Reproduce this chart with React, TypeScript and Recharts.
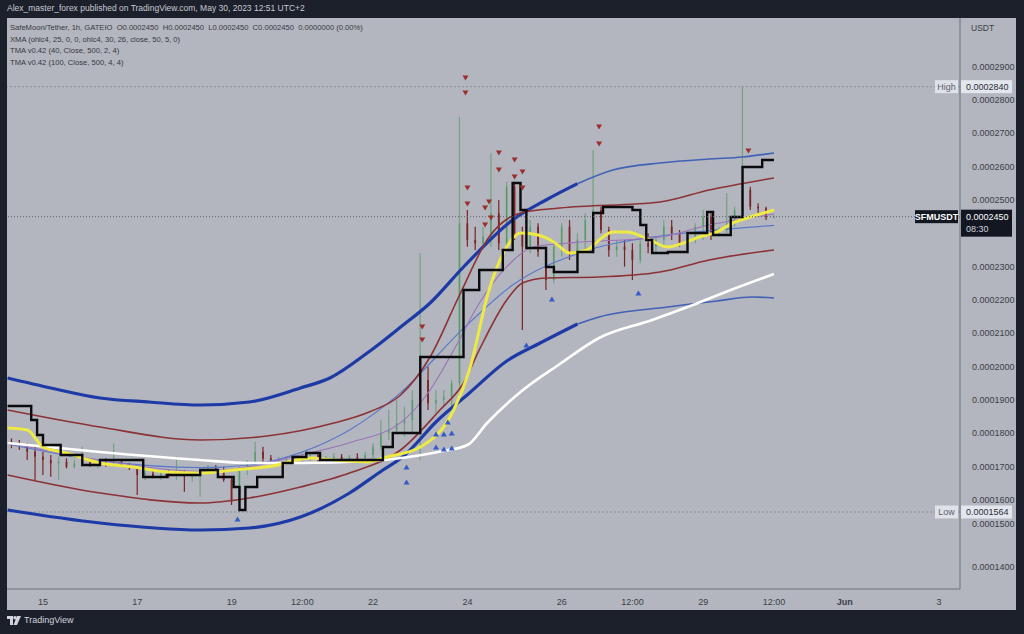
import { ComposedChart, Line, Bar, Scatter, XAxis, YAxis, ReferenceLine } from 'recharts';

// x = hours since May 15 00:00, price values in units of 1e-7 USDT
const FONT = '"Liberation Sans", Arial, sans-serif';

const timeTicks = [0, 48, 96, 132, 168, 216, 264, 300, 336, 372, 408, 456];
const timeLabels = ['15', '17', '19', '12:00', '22', '24', '26', '12:00', '29', '12:00', 'Jun', '3'];
// 0.0002400 sits under the last-price tag, so it is not drawn
const priceTicks = [1400, 1500, 1600, 1700, 1800, 1900, 2000, 2100, 2200, 2300, 2500, 2600, 2700, 2800, 2900];

const HIGH = 2840;
const LOW = 1564;
const LAST = 2450;
const LIVE_FROM = 272; // TMA band turns into its thin (repainting) part

const legendLines = [
  'SafeMoon/Tether, 1h, GATEIO  O0.0002450  H0.0002450  L0.0002450  C0.0002450  0.0000000 (0.00%)',
  'XMA (ohlc4, 25, 0, 0, ohlc4, 30, 26, close, 50, 5, 0)',
  'TMA v0.42 (40, Close, 500, 2, 4)',
  'TMA v0.42 (100, Close, 500, 4, 4)',
];

// [hour, open, high, low, close] — 4h buckets
const candles: [number, number, number, number, number][] = [
  [-16, 1775, 1785, 1755, 1770], [-12, 1770, 1780, 1750, 1765], [-8, 1765, 1770, 1720, 1745],
  [-4, 1745, 1760, 1660, 1730], [0, 1730, 1745, 1675, 1720], [4, 1720, 1735, 1670, 1710],
  [8, 1710, 1730, 1660, 1715], [12, 1715, 1725, 1695, 1700], [16, 1700, 1720, 1695, 1710],
  [20, 1710, 1760, 1700, 1715], [24, 1715, 1725, 1700, 1705], [28, 1705, 1720, 1695, 1712],
  [32, 1712, 1725, 1700, 1708], [36, 1708, 1770, 1700, 1715], [40, 1715, 1722, 1700, 1705],
  [44, 1705, 1712, 1690, 1695], [48, 1695, 1700, 1615, 1675], [52, 1675, 1690, 1660, 1680],
  [56, 1680, 1690, 1665, 1672], [60, 1672, 1685, 1660, 1680], [64, 1680, 1690, 1665, 1675],
  [68, 1675, 1730, 1660, 1685], [72, 1685, 1690, 1625, 1670], [76, 1670, 1685, 1655, 1680],
  [80, 1680, 1690, 1610, 1685], [84, 1685, 1705, 1675, 1695], [88, 1695, 1705, 1680, 1690],
  [92, 1690, 1700, 1655, 1660], [96, 1660, 1670, 1585, 1595], [100, 1595, 1700, 1564, 1690],
  [104, 1690, 1720, 1675, 1715], [108, 1715, 1775, 1700, 1745], [112, 1745, 1760, 1715, 1725],
  [116, 1725, 1735, 1710, 1718], [120, 1718, 1730, 1708, 1722], [124, 1722, 1732, 1710, 1725],
  [128, 1725, 1735, 1712, 1728], [132, 1728, 1740, 1715, 1730], [136, 1730, 1745, 1718, 1735],
  [140, 1735, 1745, 1712, 1720], [144, 1720, 1732, 1710, 1725], [148, 1725, 1740, 1715, 1730],
  [152, 1730, 1738, 1712, 1722], [156, 1722, 1735, 1712, 1728], [160, 1728, 1740, 1715, 1725],
  [164, 1725, 1745, 1718, 1735], [168, 1735, 1770, 1725, 1760], [172, 1760, 1840, 1750, 1800],
  [176, 1800, 1870, 1780, 1810], [180, 1810, 1900, 1800, 1830], [184, 1830, 1880, 1790, 1840],
  [188, 1840, 1930, 1800, 1900], [192, 1880, 2340, 1720, 1990], [196, 1960, 2000, 1870, 1890],
  [200, 1890, 1930, 1860, 1900], [204, 1900, 1930, 1880, 1910], [208, 1910, 1960, 1880, 1950],
  [212, 1950, 2749, 1930, 2430], [216, 2430, 2470, 2360, 2380], [220, 2380, 2420, 2350, 2370],
  [224, 2370, 2420, 2355, 2390], [228, 2380, 2640, 2360, 2460], [232, 2460, 2500, 2350, 2370],
  [236, 2370, 2555, 2360, 2540], [240, 2540, 2555, 2380, 2400], [244, 2400, 2420, 2110, 2360],
  [248, 2360, 2440, 2340, 2420], [252, 2420, 2430, 2330, 2345], [256, 2345, 2360, 2230, 2260],
  [260, 2260, 2380, 2250, 2360], [264, 2360, 2430, 2330, 2420], [268, 2420, 2440, 2320, 2340],
  [272, 2340, 2400, 2310, 2380], [276, 2380, 2460, 2350, 2440], [280, 2440, 2650, 2420, 2470],
  [284, 2470, 2480, 2400, 2410], [288, 2410, 2420, 2330, 2350], [292, 2350, 2380, 2330, 2360],
  [296, 2360, 2380, 2300, 2350], [300, 2350, 2370, 2260, 2320], [304, 2320, 2380, 2310, 2370],
  [308, 2370, 2400, 2340, 2360], [312, 2360, 2390, 2340, 2380], [316, 2380, 2440, 2360, 2420],
  [320, 2420, 2440, 2380, 2400], [324, 2400, 2410, 2360, 2370], [328, 2370, 2400, 2340, 2390],
  [332, 2390, 2430, 2370, 2420], [336, 2420, 2470, 2380, 2450], [340, 2450, 2460, 2380, 2400],
  [344, 2400, 2420, 2390, 2410], [348, 2410, 2520, 2400, 2430], [352, 2430, 2480, 2420, 2470],
  [356, 2470, 2840, 2460, 2530], [360, 2530, 2540, 2470, 2480], [364, 2480, 2490, 2460, 2475],
  [368, 2475, 2480, 2440, 2450], [372, 2450, 2455, 2445, 2450],
];

// XMA step line [hour, level]
const xmaStep = [
  [-18, 1882], [-6, 1840], [-3, 1795], [0, 1765], [9, 1735], [20, 1705], [29, 1720], [51, 1669],
  [63, 1675], [80, 1690], [89, 1669], [97, 1639], [100, 1570], [103, 1639], [109, 1669], [122, 1711],
  [127, 1729], [134, 1741], [141, 1720], [173, 1759], [178, 1801], [192, 2029], [214, 2230], [222, 2290],
  [234, 2350], [239, 2551], [243, 2470], [246, 2356], [256, 2299], [260, 2284], [272, 2344], [280, 2461],
  [285, 2479], [300, 2470], [304, 2425], [307, 2380], [310, 2341], [318, 2344], [328, 2401], [338, 2464],
  [341, 2395], [350, 2449], [356, 2599], [366, 2620], [372, 2620],
];

const xmaSmooth = [
  [-18, 1816], [-8, 1810], [0, 1759], [12, 1741], [29, 1711], [46, 1699], [63, 1684], [80, 1681],
  [97, 1690], [117, 1702], [136, 1726], [148, 1720], [165, 1714], [175, 1729], [192, 1759], [209, 1870],
  [217, 1990], [227, 2230], [236, 2359], [243, 2401], [252, 2395], [260, 2374], [268, 2341], [277, 2350],
  [283, 2380], [290, 2404], [297, 2404], [309, 2380], [318, 2359], [326, 2371], [334, 2389], [343, 2404],
  [351, 2431], [360, 2449], [372, 2470],
];

const slowUpper = [
  [-18, 1966], [4, 1936], [29, 1906], [54, 1894], [80, 1885], [105, 1894], [131, 1936], [146, 1966],
  [165, 2041], [182, 2119], [197, 2191], [214, 2299], [239, 2440], [256, 2500], [272, 2549], [290, 2590],
  [314, 2611], [339, 2623], [356, 2629], [372, 2641],
];
const slowLower = [
  [-18, 1570], [29, 1531], [80, 1510], [105, 1516], [131, 1549], [156, 1621], [173, 1690], [183, 1729],
  [201, 1840], [217, 1921], [236, 2017], [253, 2071], [272, 2128], [283, 2149], [318, 2179], [343, 2197],
  [361, 2209], [372, 2206],
];
const slowMid = [
  [-18, 1768], [29, 1718], [80, 1697], [105, 1705], [131, 1742], [156, 1810], [182, 1922], [214, 2115],
  [239, 2245], [273, 2341], [314, 2392], [339, 2408], [372, 2424],
];
const fastUpper = [
  [-18, 1870], [29, 1819], [80, 1780], [114, 1792], [148, 1831], [166, 1864], [182, 1915], [197, 2029],
  [212, 2215], [227, 2389], [243, 2461], [263, 2476], [314, 2494], [339, 2530], [372, 2566],
];
const fastLower = [
  [-18, 1675], [29, 1621], [80, 1591], [105, 1606], [131, 1639], [156, 1681], [182, 1750], [202, 1870],
  [214, 1951], [222, 2050], [236, 2200], [244, 2251], [256, 2266], [283, 2269], [314, 2284], [339, 2320],
  [372, 2350],
];
const fastMid = [
  [-18, 1772], [29, 1720], [80, 1686], [105, 1700], [131, 1735], [156, 1772], [182, 1832], [197, 1930],
  [210, 2060], [222, 2190], [236, 2300], [250, 2360], [270, 2372], [314, 2389], [339, 2425], [372, 2458],
];
const whiteLine = [
  [-18, 1771], [29, 1744], [80, 1720], [105, 1711], [131, 1711], [166, 1717], [201, 1744], [216, 1765],
  [226, 1831], [243, 1924], [263, 2008], [283, 2086], [310, 2140], [328, 2179], [350, 2230], [372, 2278],
];

const sellSignals = [
  [215, 2866], [215, 2821], [193, 2119], [193, 2080], [216, 2536], [216, 2488], [225, 2476], [227, 2494],
  [225, 2425], [228, 2446], [232, 2641], [232, 2590], [240, 2620], [244, 2584], [240, 2569], [244, 2536],
  [283, 2719], [283, 2668], [359, 2647],
];
const buySignals = [
  [99, 1543], [185, 1699], [185, 1654], [200, 1798], [204, 1798], [208, 1801], [206, 1834], [200, 1759],
  [204, 1753], [208, 1756], [246, 2065], [259, 2203], [303, 2221],
];

const pts = (arr: number[][]) => arr.map(([h, p]) => ({ h, p }));
const rows = candles.map(([h, o, hi, lo, c]) => ({ h, o, hi, lo, c }));
const fmt = (v: number) => (v / 1e7).toFixed(7);

function Candle(props: any) {
  const { x, y, width, height, payload } = props;
  if (!payload) return null;
  const { o, c, hi, lo } = payload;
  const up = c >= o;
  const yOf = (v: number) => (hi === lo ? y : y + ((hi - v) / (hi - lo)) * height);
  const top = yOf(Math.max(o, c));
  const bot = yOf(Math.min(o, c));
  const cx = x + width / 2;
  const color = up ? 'rgba(70,150,85,0.6)' : '#7c2424';
  return (
    <g>
      <line x1={cx} x2={cx} y1={y} y2={y + height} stroke={color} strokeWidth={1.2} />
      <rect x={x} y={top} width={width} height={Math.max(1, bot - top)} fill={color} />
    </g>
  );
}

const triDown = (props: any) => {
  const { cx, cy } = props;
  return <polygon points={`${cx - 3},${cy - 2.5} ${cx + 3},${cy - 2.5} ${cx},${cy + 2.5}`} fill="#9b2d2d" />;
};
const triUp = (props: any) => {
  const { cx, cy } = props;
  return <polygon points={`${cx - 3},${cy + 2.5} ${cx + 3},${cy + 2.5} ${cx},${cy - 2.5}`} fill="#3559c7" />;
};

function LightTag(props: any) {
  const { viewBox, name, value } = props;
  if (!viewBox) return null;
  const right = viewBox.x + viewBox.width;
  const y = viewBox.y;
  return (
    <g fontFamily={FONT} fontSize={9}>
      <rect x={right - 25} y={y - 6.5} width={23} height={13} fill="#dfe2e8" />
      <text x={right - 13.5} y={y + 3} textAnchor="middle" fill="#5d606b">{name}</text>
      <rect x={right + 1} y={y - 6.5} width={51} height={13} fill="#e3e6ec" />
      <text x={right + 6} y={y + 3} fill="#2a2e39">{value}</text>
    </g>
  );
}

function LastTag(props: any) {
  const { viewBox } = props;
  if (!viewBox) return null;
  const right = viewBox.x + viewBox.width;
  const y = viewBox.y;
  return (
    <g fontFamily={FONT} fontSize={9}>
      <rect x={right - 45} y={y - 6.5} width={43} height={13} fill="#131722" />
      <text x={right - 23.5} y={y + 3} textAnchor="middle" fill="#ffffff" fontWeight="bold">SFMUSDT</text>
      <rect x={right + 1} y={y - 7} width={51} height={27} fill="#131722" />
      <text x={right + 6} y={y + 3} fill="#ffffff">{fmt(LAST)}</text>
      <text x={right + 6} y={y + 15} fill="#d1d4dc">08:30</text>
    </g>
  );
}

const RightTick = (props: any) => {
  const { x, y, payload } = props;
  // TradingView nudges the 0.0001500 label up next to the Low tag
  const shift = payload.value === 1500 ? -9 : 0;
  return (
    <text x={x + 4} y={y + 3 + shift} fill="#3b3e47" fontSize={9} fontFamily={FONT}>
      {fmt(payload.value)}
    </text>
  );
};

const TimeTick = (props: any) => {
  const { x, y, payload } = props;
  const i = timeTicks.indexOf(payload.value);
  const label = timeLabels[i] ?? '';
  return (
    <text x={x} y={y + 8} textAnchor="middle" fill="#3b3e47" fontSize={9} fontFamily={FONT}
      fontWeight={label === 'Jun' ? 'bold' : 'normal'}>
      {label}
    </text>
  );
};

const band = (data: number[][], stroke: string, width: number, key: string) => (
  <Line key={key} data={pts(data)} dataKey="p" type="monotone" stroke={stroke} strokeWidth={width}
    dot={false} activeDot={false} isAnimationActive={false} />
);

export default function App() {
  return (
    <div style={{ position: 'absolute', left: 0, top: 0, width: 1024, height: 634, background: '#1c202b', overflow: 'hidden', fontFamily: FONT }}>
      <div style={{ position: 'absolute', left: 7, top: 3, fontSize: 8.5, color: '#c8cbd3' }}>
        Alex_master_forex published on TradingView.com, May 30, 2023 12:51 UTC+2
      </div>
      <div style={{ position: 'absolute', left: 7, top: 18, width: 1009, height: 592, background: '#b3b6be' }}>
        <ComposedChart width={1009} height={592} data={rows} margin={{ top: 0, right: 0, bottom: 0, left: 0 }}>
          <XAxis dataKey="h" type="number" domain={[-18.32, 466.67]} allowDataOverflow ticks={timeTicks}
            tick={<TimeTick />} tickLine={false} height={21} stroke="#6f727c" interval={0} />
          <YAxis orientation="right" type="number" domain={[1333, 3046]} allowDataOverflow ticks={priceTicks}
            tick={<RightTick />} tickLine={false} width={56} stroke="#6f727c" interval={0} />
          <ReferenceLine y={HIGH} stroke="#8e919b" strokeDasharray="2 2" label={<LightTag name="High" value={fmt(HIGH)} />} />
          <ReferenceLine y={LOW} stroke="#8e919b" strokeDasharray="2 2" label={<LightTag name="Low" value={fmt(LOW)} />} />
          {band(slowUpper.filter(p => p[0] <= LIVE_FROM), '#1d3aa6', 3.2, 'su1')}
          {band(slowUpper.filter(p => p[0] >= LIVE_FROM), '#4161b8', 1.6, 'su2')}
          {band(slowLower.filter(p => p[0] <= LIVE_FROM), '#1d3aa6', 3.2, 'sl1')}
          {band(slowLower.filter(p => p[0] >= LIVE_FROM), '#4161b8', 1.6, 'sl2')}
          {band(slowMid, '#5b79c9', 1.2, 'sm')}
          {band(fastUpper, '#8c3236', 1.6, 'fu')}
          {band(fastLower, '#8c3236', 1.6, 'fl')}
          {band(fastMid, '#9c72b8', 1.1, 'fm')}
          {band(whiteLine, '#ffffff', 2.6, 'wh')}
          {band(xmaSmooth, '#eeea45', 3, 'xs')}
          <Bar dataKey={(d: any) => [d.lo, d.hi]} barSize={4} shape={<Candle />} isAnimationActive={false} />
          <Line data={pts(xmaStep)} dataKey="p" type="stepAfter" stroke="#0b0b0d" strokeWidth={2.4}
            dot={false} activeDot={false} isAnimationActive={false} />
          <Scatter data={pts(sellSignals)} dataKey="p" shape={triDown} isAnimationActive={false} />
          <Scatter data={pts(buySignals)} dataKey="p" shape={triUp} isAnimationActive={false} />
          <ReferenceLine y={LAST} stroke="#5d606b" strokeDasharray="1 2" label={<LastTag />} />
        </ComposedChart>
        <div style={{ position: 'absolute', left: 3, top: 4, fontSize: 7.6, lineHeight: '11.6px', color: '#353841', whiteSpace: 'pre' }}>
          {legendLines.map(l => <div key={l}>{l}</div>)}
        </div>
        <div style={{ position: 'absolute', left: 964, top: 5, fontSize: 8.5, color: '#3b3e47' }}>USDT</div>
      </div>
      <div style={{ position: 'absolute', left: 7, top: 615, display: 'flex', alignItems: 'center', gap: 3, color: '#d1d4dc' }}>
        <svg width={14} height={9} viewBox="0 0 14 9">
          <path d="M0 0h6v9H3V3H0z" fill="#d1d4dc" />
          <circle cx={8} cy={1.8} r={1.8} fill="#d1d4dc" />
          <path d="M10 0h4l-4 9H6.5z" fill="#d1d4dc" />
        </svg>
        <span style={{ fontSize: 9 }}>TradingView</span>
      </div>
    </div>
  );
}
